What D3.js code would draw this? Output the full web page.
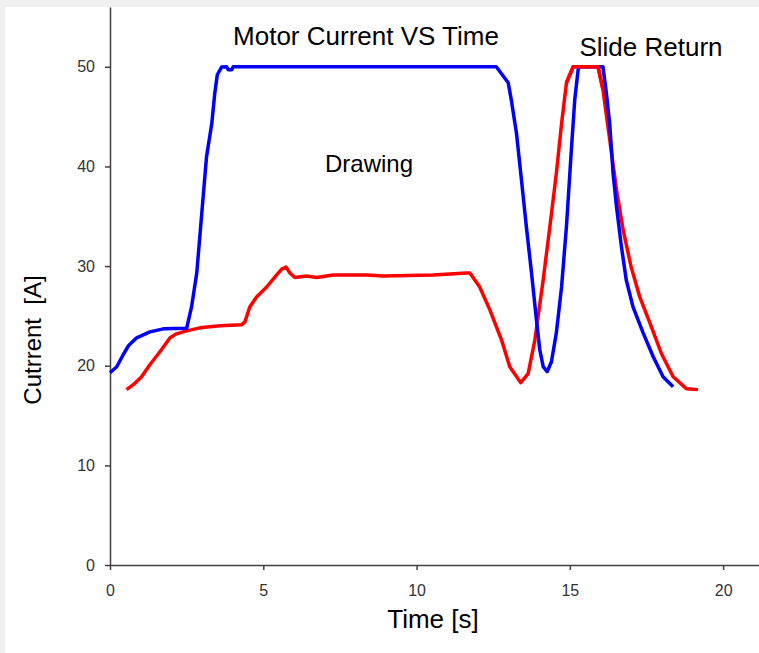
<!DOCTYPE html>
<html>
<head>
    <meta charset="utf-8">
    <title>Motor Current VS Time</title>
    <script src="https://d3js.org/d3.v7.min.js"></script>
    <style>
        body { margin: 0; padding: 0; background: #f0f0f0; }
        svg { display: block; }
        text { font-family: "Liberation Sans", Arial, sans-serif; }
        .axis path, .axis line { stroke: #404040; stroke-width: 1.5; }
    </style>
</head>
<body>
<svg id="svg" width="759" height="653"></svg>
<script>
    // Drawing + slide return cycle, blue trace
    const blueTime = [0, 0.22, 0.43, 0.6, 0.87, 1.3, 1.74, 2.5, 2.66, 2.83, 3.15, 3.32, 3.42, 3.5, 3.64, 3.8, 3.86, 3.97, 4.02,
        12.6, 12.99, 13.1, 13.26, 13.42, 13.58, 13.75, 13.91, 14.02, 14.13, 14.26, 14.4, 14.56, 14.73, 14.89, 15.05, 15.16, 15.27, 15.32,
        16.08, 16.19, 16.3, 16.41, 16.52, 16.68, 16.84, 17.06, 17.39, 17.72, 18.04, 18.37];
    const blueCurrent = [19.3, 19.9, 21.1, 22.0, 22.8, 23.4, 23.7, 23.75, 25.9, 29.3, 41.0, 44.3, 47.4, 49.2, 49.97, 50, 49.7, 49.7, 50,
        50, 48.4, 46.5, 43.3, 38.7, 34.0, 29.3, 24.6, 21.6, 19.9, 19.4, 20.4, 23.3, 27.9, 34.0, 41.7, 46.7, 49.7, 50,
        50, 47.4, 44.3, 39.3, 36.0, 32.0, 28.6, 25.9, 23.3, 20.9, 18.9, 17.9];

    // red trace
    const redTime = [0.54, 0.76, 1.03, 1.3, 1.63, 1.96, 2.17, 2.5, 2.93, 3.59, 4.29, 4.4, 4.56, 4.78, 5.11, 5.43, 5.6, 5.74, 5.87, 6.03,
        6.41, 6.74, 7.28, 8.37, 8.91, 10.54, 11.09, 11.63, 11.74, 12.06, 12.39, 12.77, 13.04, 13.4, 13.64, 13.86, 14.13, 14.35, 14.56,
        14.73, 14.89, 15.11, 15.92, 16.08, 16.3, 16.52, 16.74, 17.0, 17.28, 17.61, 17.99, 18.37, 18.8, 19.18];
    const redCurrent = [17.6, 18.1, 18.9, 20.1, 21.4, 22.8, 23.2, 23.5, 23.8, 24.0, 24.1, 24.4, 25.9, 26.9, 27.9, 29.1, 29.7, 29.9, 29.3, 28.85,
        29.0, 28.85, 29.1, 29.1, 29.0, 29.1, 29.2, 29.3, 29.3, 27.9, 25.6, 22.6, 19.9, 18.3, 19.2, 22.6, 28.6, 34.0, 39.3,
        44.3, 48.4, 50, 50, 47.7, 42.7, 37.7, 33.6, 29.9, 26.9, 24.3, 21.2, 18.9, 17.7, 17.6];

    const xTicks = [0, 5, 10, 15, 20];
    const yTicks = [0, 10, 20, 30, 40, 50];

    const svg = d3.select("#svg");

    // white plotting card over the grey frame
    svg.append("rect")
        .attr("x", 5).attr("y", 7)
        .attr("width", 754).attr("height", 646)
        .attr("fill", "#fff");

    const x = d3.scaleLinear().domain([0, 21.17]).range([110, 759]);
    const y = d3.scaleLinear().domain([0, 56]).range([565, 7]);

    // y axis
    svg.append("g")
        .attr("class", "axis")
        .attr("transform", "translate(110,0)")
        .call(d3.axisLeft(y).tickValues(yTicks).tickSize(5).tickSizeOuter(0).tickPadding(10))
        .selectAll("text")
            .attr("fill", "#333")
            .attr("style", "font-size: 16px; font-family: 'Liberation Sans', Arial, sans-serif");

    // x axis
    svg.append("g")
        .attr("class", "axis")
        .attr("transform", "translate(0,565)")
        .call(d3.axisBottom(x).tickValues(xTicks).tickSize(5).tickSizeOuter(0).tickPadding(15))
        .selectAll("text")
            .attr("fill", "#333")
            .attr("style", "font-size: 16px; font-family: 'Liberation Sans', Arial, sans-serif");

    const line = d3.line()
        .x(d => x(d[0]))
        .y(d => y(d[1]));

    svg.append("path")
        .datum(redTime.map((t, i) => [t, redCurrent[i]]))
        .attr("fill", "none")
        .attr("stroke", "#ff0000")
        .attr("stroke-width", 3.5)
        .attr("stroke-linejoin", "round")
        .attr("d", line);

    svg.append("path")
        .datum(blueTime.map((t, i) => [t, blueCurrent[i]]))
        .attr("fill", "none")
        .attr("stroke", "#0000ff")
        .attr("stroke-width", 3.5)
        .attr("stroke-linejoin", "round")
        .attr("d", line);

    // redraw red peak segment on top, as in the reference
    svg.append("path")
        .datum(redTime.map((t, i) => [t, redCurrent[i]]).filter(d => d[0] >= 14.8 && d[0] <= 16.1))
        .attr("fill", "none")
        .attr("stroke", "#ff0000")
        .attr("stroke-width", 3.5)
        .attr("d", line);

    // titles and notes
    svg.append("text")
        .attr("x", 366).attr("y", 45)
        .attr("text-anchor", "middle")
        .attr("font-size", 26)
        .text("Motor Current VS Time");

    svg.append("text")
        .attr("x", 651).attr("y", 56)
        .attr("text-anchor", "middle")
        .attr("font-size", 26)
        .text("Slide Return");

    svg.append("text")
        .attr("x", 325).attr("y", 172)
        .attr("font-size", 24)
        .text("Drawing");

    svg.append("text")
        .attr("x", 433).attr("y", 628)
        .attr("text-anchor", "middle")
        .attr("font-size", 26)
        .text("Time [s]");

    svg.append("text")
        .attr("transform", "translate(41,340) rotate(-90)")
        .attr("text-anchor", "middle")
        .attr("font-size", 24)
        .attr("xml:space", "preserve")
        .text("Cutrrent  [A]");
</script>
</body>
</html>
